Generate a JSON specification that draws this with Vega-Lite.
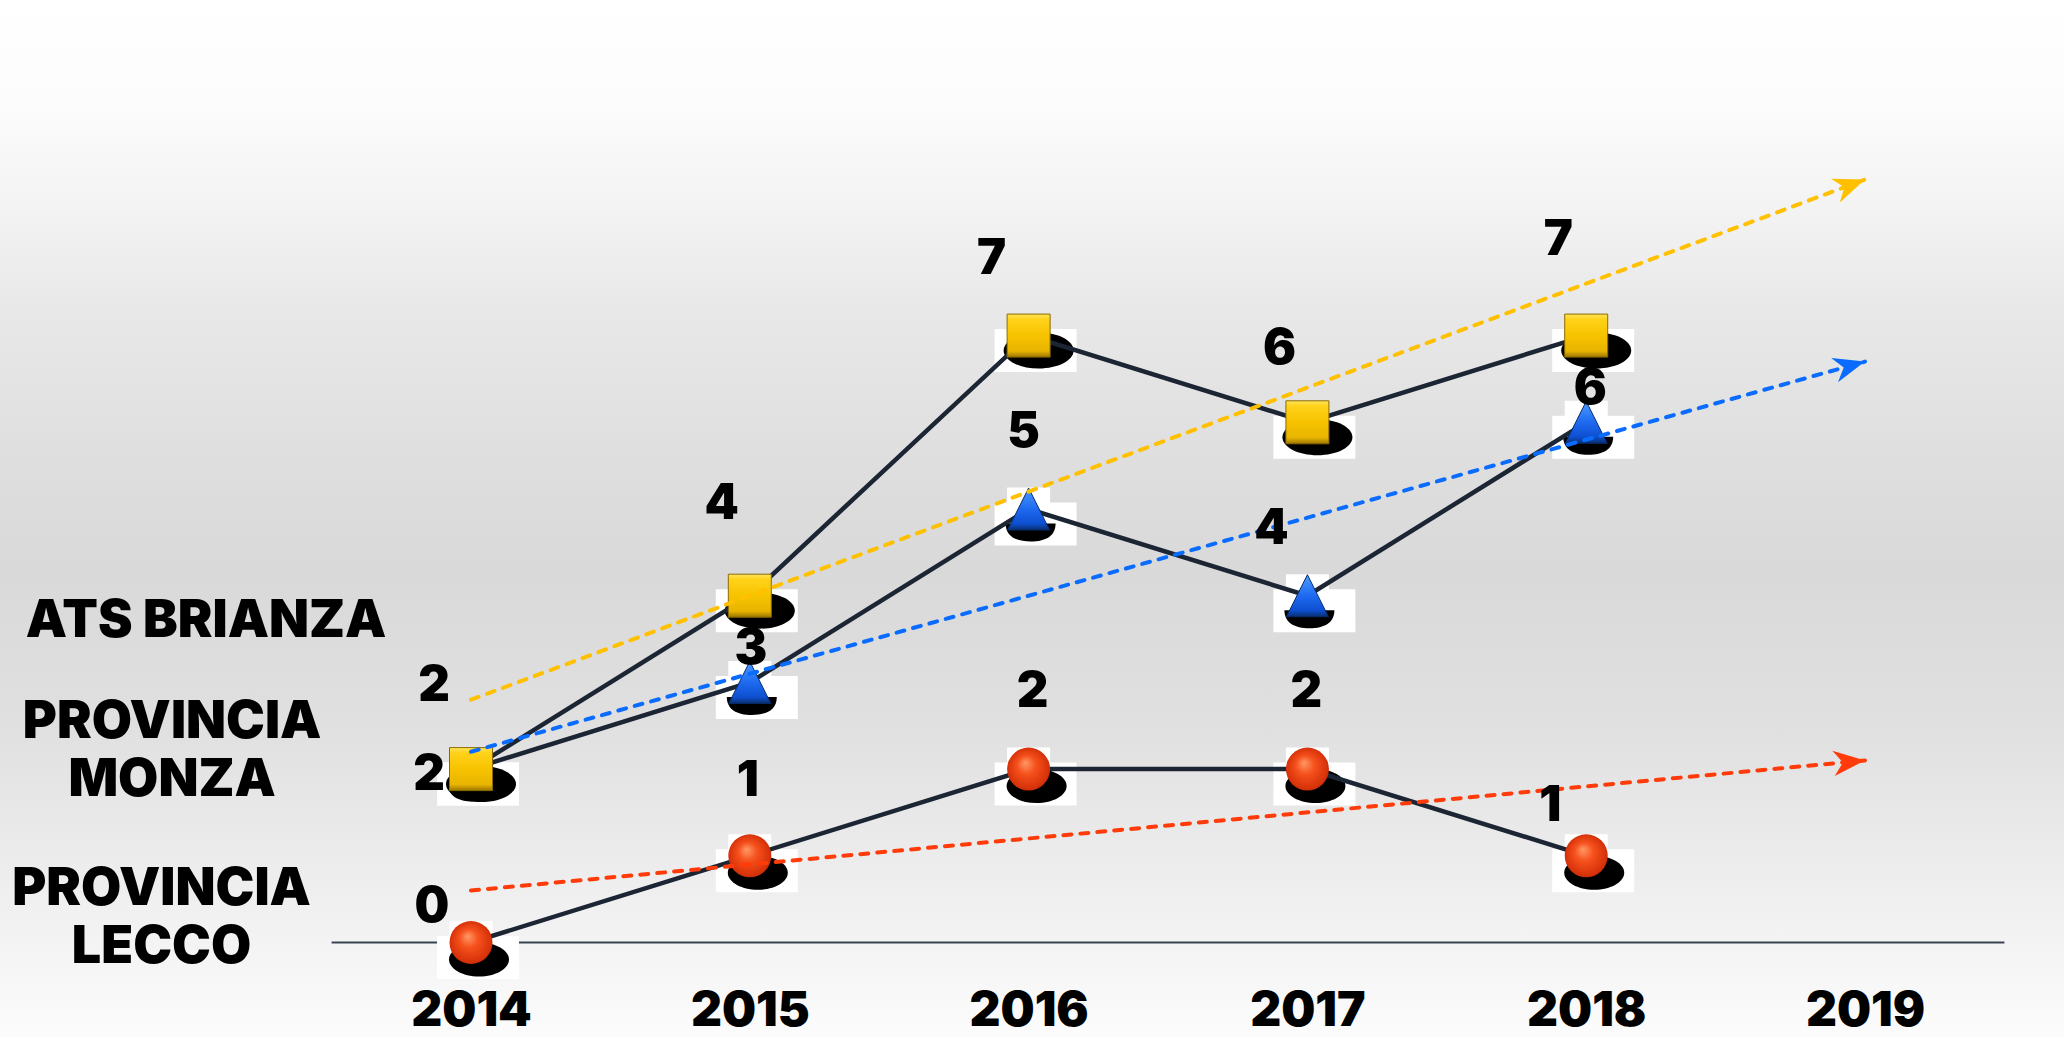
{
  "$schema": "https://vega.github.io/schema/vega-lite/v6.json",
  "width": 2064,
  "height": 1038,
  "autosize": {"type": "none"},
  "padding": 0,
  "background": "#ffffff",
  "config": {
    "view": {
      "stroke": null,
      "fill": {
        "gradient": "linear", "x1": 0, "y1": 0, "x2": 0, "y2": 1,
        "stops": [
          {"offset": 0, "color": "#ffffff"},
          {"offset": 0.1, "color": "#fcfcfc"},
          {"offset": 0.2, "color": "#f3f3f3"},
          {"offset": 0.3, "color": "#e8e8e8"},
          {"offset": 0.45, "color": "#dedede"},
          {"offset": 0.55, "color": "#d9d9d9"},
          {"offset": 0.7, "color": "#e0e0e0"},
          {"offset": 0.85, "color": "#eeeeee"},
          {"offset": 1, "color": "#fcfcfc"}
        ]
      }
    }
  },
  "datasets": {
    "values": [
      {"series": "ATS BRIANZA", "year": 2014, "value": 2},
      {"series": "ATS BRIANZA", "year": 2015, "value": 4},
      {"series": "ATS BRIANZA", "year": 2016, "value": 7},
      {"series": "ATS BRIANZA", "year": 2017, "value": 6},
      {"series": "ATS BRIANZA", "year": 2018, "value": 7},
      {"series": "PROVINCIA MONZA", "year": 2014, "value": 2},
      {"series": "PROVINCIA MONZA", "year": 2015, "value": 3},
      {"series": "PROVINCIA MONZA", "year": 2016, "value": 5},
      {"series": "PROVINCIA MONZA", "year": 2017, "value": 4},
      {"series": "PROVINCIA MONZA", "year": 2018, "value": 6},
      {"series": "PROVINCIA LECCO", "year": 2014, "value": 0},
      {"series": "PROVINCIA LECCO", "year": 2015, "value": 1},
      {"series": "PROVINCIA LECCO", "year": 2016, "value": 2},
      {"series": "PROVINCIA LECCO", "year": 2017, "value": 2},
      {"series": "PROVINCIA LECCO", "year": 2018, "value": 1}
    ],
    "trend": [
      {"series": "ATS BRIANZA", "year": 2014, "value": 2.8},
      {"series": "ATS BRIANZA", "year": 2019, "value": 8.8},
      {"series": "PROVINCIA MONZA", "year": 2014, "value": 2.2},
      {"series": "PROVINCIA MONZA", "year": 2019, "value": 6.7},
      {"series": "PROVINCIA LECCO", "year": 2014, "value": 0.6},
      {"series": "PROVINCIA LECCO", "year": 2019, "value": 2.1}
    ],
    "names": [
      {"label": "ATS BRIANZA", "year": 2013.05, "value": 3.71},
      {"label": "PROVINCIA\nMONZA", "year": 2012.928, "value": 2.545},
      {"label": "PROVINCIA\nLECCO", "year": 2012.89, "value": 0.62}
    ],
    "baseline": [
      {"year": 2013.5, "year2": 2019.5, "value": 0}
    ]
  },
  "encoding": {
    "x": {
      "field": "year", "type": "quantitative",
      "scale": {"domain": [2012.3106, 2019.7137], "nice": false, "zero": false},
      "axis": {
        "values": [2014, 2015, 2016, 2017, 2018, 2019],
        "format": "d", "title": null, "domain": false, "ticks": false, "tickSize": 0, "grid": false,
        "labelFont": "Inter", "labelFontWeight": 900, "labelFontSize": 48, "labelColor": "#000000",
        "labelPadding": 83, "labelBaseline": "alphabetic", "labelFlush": false, "labelOverlap": false, "labelBound": false,
        "offset": -95.5
      }
    },
    "y": {
      "field": "value", "type": "quantitative",
      "scale": {"domain": [-1.1015, 10.8708], "nice": false, "zero": false},
      "axis": null
    }
  },
  "layer": [
    {
      "data": {"name": "baseline"},
      "mark": {"type": "rule", "color": "#3A4452", "strokeWidth": 2},
      "encoding": {"x2": {"field": "year2"}}
    },
    {
      "data": {"name": "names"},
      "mark": {"type": "text", "font": "Inter", "fontWeight": 900, "fontSize": 52, "color": "#000000", "align": "center", "baseline": "middle", "lineBreak": "\n", "lineHeight": 58},
      "encoding": {"text": {"field": "label"}}
    },
    {
      "data": {"name": "values"},
      "mark": {"type": "point", "shape": "M-1,-0.524L1,-0.524L1,0.524L-1,0.524Z", "size": 6724, "filled": true, "fill": "#ffffff", "stroke": null, "opacity": 1, "xOffset": 7, "yOffset": 15}
    },
    {
      "data": {"name": "values"},
      "mark": {"type": "point", "shape": "square", "size": 1849, "filled": true, "fill": "#ffffff", "stroke": null, "opacity": 1}
    },
    {
      "data": {"name": "values"},
      "transform": [{"filter": {"field": "series", "equal": "PROVINCIA LECCO"}}],
      "mark": {"type": "point", "shape": "M-1,0C-1,-0.313,-0.552,-0.567,0,-0.567C0.552,-0.567,1,-0.313,1,0C1,0.313,0.552,0.567,0,0.567C-0.552,0.567,-1,0.313,-1,0Z", "size": 3600, "filled": true, "fill": "#000000", "stroke": null, "opacity": 1, "xOffset": 8, "yOffset": 17}
    },
    {
      "data": {"name": "values"},
      "transform": [{"filter": {"field": "series", "equal": "PROVINCIA MONZA"}}],
      "mark": {"type": "point", "shape": "M-1,-0.3L1,-0.3C1,0.2,0.6,0.42,0,0.42C-0.6,0.42,-1,0.2,-1,-0.3Z", "size": 2500, "filled": true, "fill": "#000000", "stroke": null, "opacity": 1, "xOffset": 2, "yOffset": 22}
    },
    {
      "data": {"name": "values"},
      "transform": [{"filter": {"field": "series", "equal": "ATS BRIANZA"}}],
      "mark": {"type": "point", "shape": "M-1,0C-1,-0.284,-0.552,-0.514,0,-0.514C0.552,-0.514,1,-0.284,1,0C1,0.284,0.552,0.514,0,0.514C-0.552,0.514,-1,0.284,-1,0Z", "size": 4900, "filled": true, "fill": "#000000", "stroke": null, "opacity": 1, "xOffset": 10, "yOffset": 15}
    },
    {
      "data": {"name": "values"},
      "mark": {"type": "line", "color": "#1C2533", "strokeWidth": 4.5},
      "encoding": {"detail": {"field": "series"}}
    },
    {
      "data": {"name": "values"},
      "transform": [{"filter": {"field": "series", "equal": "PROVINCIA LECCO"}}],
      "mark": {"type": "point", "shape": "circle", "size": 1849, "filled": true, "opacity": 1,
        "fill": {"gradient": "radial", "x1": 0.42, "y1": 0.35, "r1": 0, "x2": 0.5, "y2": 0.5, "r2": 0.55, "stops": [
          {"offset": 0, "color": "#FF9A66"}, {"offset": 0.4, "color": "#F5501C"}, {"offset": 0.85, "color": "#D8330A"}, {"offset": 1, "color": "#B52A08"}]},
        "stroke": null}
    },
    {
      "data": {"name": "values"},
      "transform": [{"filter": {"field": "series", "equal": "PROVINCIA MONZA"}}],
      "mark": {"type": "point", "shape": "M0,-1L1,1L-1,1Z", "size": 1764, "filled": true, "opacity": 1,
        "fill": {"gradient": "linear", "x1": 0, "y1": 0, "x2": 0, "y2": 1, "stops": [
          {"offset": 0, "color": "#4C9BFF"}, {"offset": 0.5, "color": "#1E6AF0"}, {"offset": 0.85, "color": "#0D4FD0"}, {"offset": 1, "color": "#08306F"}]},
        "stroke": "#072C6B", "strokeWidth": 1}
    },
    {
      "data": {"name": "values"},
      "transform": [{"filter": {"field": "series", "equal": "ATS BRIANZA"}}],
      "mark": {"type": "point", "shape": "square", "size": 1849, "filled": true, "opacity": 1,
        "fill": {"gradient": "linear", "x1": 0, "y1": 0, "x2": 0, "y2": 1, "stops": [
          {"offset": 0, "color": "#FFE45C"}, {"offset": 0.12, "color": "#FFD21A"}, {"offset": 0.5, "color": "#F7C300"}, {"offset": 0.86, "color": "#E8B400"}, {"offset": 1, "color": "#9C7500"}]},
        "stroke": "#8A6A00", "strokeWidth": 1}
    },
    {
      "data": {"name": "trend"},
      "mark": {"type": "line", "strokeWidth": 4, "strokeDash": [8, 9], "strokeCap": "round"},
      "encoding": {
        "color": {"field": "series", "type": "nominal", "legend": null,
          "scale": {"domain": ["ATS BRIANZA", "PROVINCIA MONZA", "PROVINCIA LECCO"], "range": ["#FFC000", "#0A6CFF", "#FF3B0A"]}}
      }
    },
    {
      "data": {"name": "trend"},
      "transform": [{"filter": {"and": [{"field": "series", "equal": "ATS BRIANZA"}, {"field": "year", "equal": 2019}]}}],
      "mark": {"type": "point", "shape": "M0,0L-2,-0.8L-1.4,0L-2,0.8Z", "size": 1000, "filled": true, "fill": "#FFC000", "stroke": null, "opacity": 1, "angle": -20.5}
    },
    {
      "data": {"name": "trend"},
      "transform": [{"filter": {"and": [{"field": "series", "equal": "PROVINCIA MONZA"}, {"field": "year", "equal": 2019}]}}],
      "mark": {"type": "point", "shape": "M0,0L-2,-0.8L-1.4,0L-2,0.8Z", "size": 1000, "filled": true, "fill": "#0A6CFF", "stroke": null, "opacity": 1, "angle": -15.6}
    },
    {
      "data": {"name": "trend"},
      "transform": [{"filter": {"and": [{"field": "series", "equal": "PROVINCIA LECCO"}, {"field": "year", "equal": 2019}]}}],
      "mark": {"type": "point", "shape": "M0,0L-2,-0.8L-1.4,0L-2,0.8Z", "size": 1000, "filled": true, "fill": "#FF3B0A", "stroke": null, "opacity": 1, "angle": -5.3}
    },
    {
      "data": {"name": "values"},
      "transform": [{"filter": {"field": "series", "equal": "ATS BRIANZA"}}],
      "mark": {"type": "text", "font": "Inter", "fontWeight": 900, "fontSize": 49, "color": "#000000", "align": "center", "baseline": "middle",
        "dx": {"expr": "[-37,-28,-37,-28,-28][datum.year - 2014]"}, "dy": {"expr": "[-83,-92,-77,-73,-96][datum.year - 2014]"}},
      "encoding": {"text": {"field": "value", "type": "quantitative"}}
    },
    {
      "data": {"name": "values"},
      "transform": [{"filter": {"field": "series", "equal": "PROVINCIA MONZA"}}],
      "mark": {"type": "text", "font": "Inter", "fontWeight": 900, "fontSize": 49, "color": "#000000", "align": "center", "baseline": "middle",
        "dx": {"expr": "[-42,1,-5,-36,4][datum.year - 2014]"}, "dy": {"expr": "[6,-33,-77,-67,-33][datum.year - 2014]"}},
      "encoding": {"text": {"field": "value", "type": "quantitative"}}
    },
    {
      "data": {"name": "values"},
      "transform": [{"filter": {"field": "series", "equal": "PROVINCIA LECCO"}}],
      "mark": {"type": "text", "font": "Inter", "fontWeight": 900, "fontSize": 49, "color": "#000000", "align": "center", "baseline": "middle",
        "dx": {"expr": "[-39,-2,4,-1,-36][datum.year - 2014]"}, "dy": {"expr": "[-35,-75,-77,-77,-50][datum.year - 2014]"}},
      "encoding": {"text": {"field": "value", "type": "quantitative"}}
    }
  ]
}
